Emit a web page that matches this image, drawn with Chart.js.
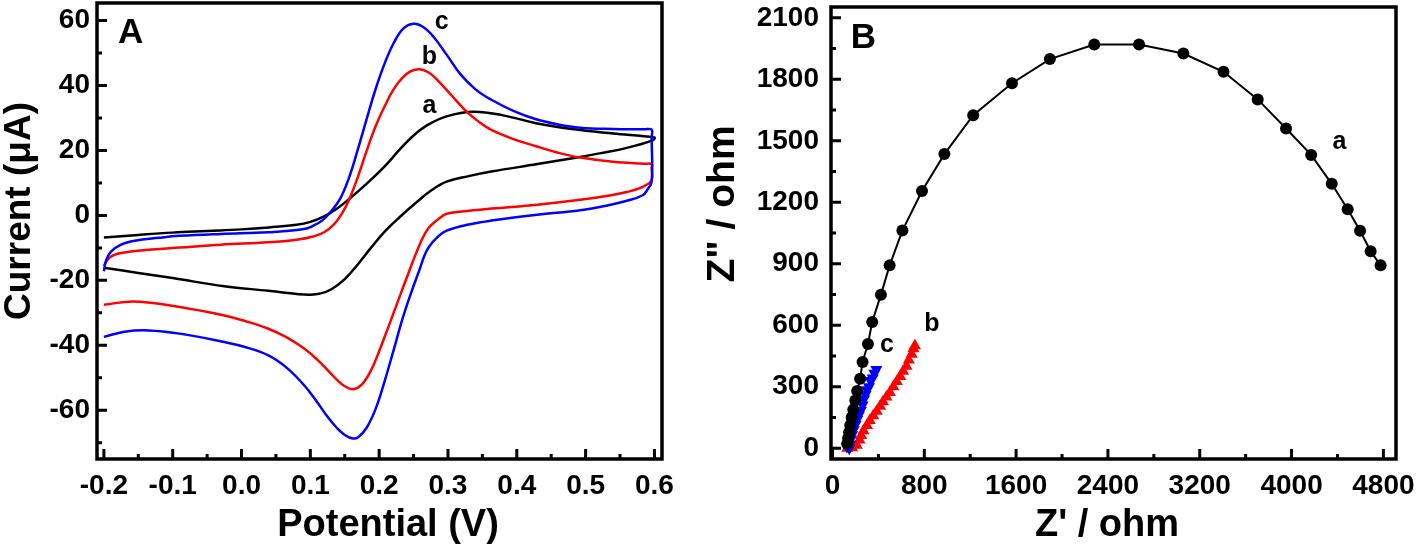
<!DOCTYPE html>
<html>
<head>
<meta charset="utf-8">
<title>CV and EIS</title>
<script src="https://cdn.jsdelivr.net/npm/chart.js@4.4.0/dist/chart.umd.min.js"></script>
<style>
  body { margin: 0; background: #fff; }
  #wrap { position: relative; width: 1418px; height: 550px; }
  #cvChart { position: absolute; left: 0; top: 0; }
  #eisChart { position: absolute; left: 700px; top: 0; }
</style>
</head>
<body>
<div id="wrap">
  <canvas id="cvChart" width="700" height="550"></canvas>
  <canvas id="eisChart" width="718" height="550"></canvas>
</div>
<script>
// ---- panel A : cyclic voltammograms (forward scan, then reverse scan) ----
const potA = [-0.200, -0.150, -0.100, -0.050, 0.000, 0.040, 0.080, 0.100, 0.120, 0.138, 0.156, 0.182, 0.208, 0.230, 0.250, 0.270, 0.298, 0.337, 0.380, 0.428, 0.480, 0.540, 0.600,
  0.598, 0.560, 0.520, 0.492, 0.430, 0.363, 0.330, 0.298, 0.275, 0.253, 0.230, 0.208, 0.188, 0.169, 0.150, 0.130, 0.115, 0.100, 0.080, 0.060, 0.039, -0.025, -0.100, -0.150, -0.200];
const curA = [-6.8, -6.0, -5.3, -4.8, -4.3, -3.7, -2.9, -2.0, -0.3, 2.0, 5.0, 9.8, 15.1, 20.3, 24.6, 27.8, 30.5, 31.9, 30.8, 28.4, 26.6, 25.2, 24.0,
  23.2, 20.8, 19.1, 18.0, 15.8, 13.5, 12.1, 10.4, 7.6, 3.8, -0.5, -5.0, -10.0, -15.1, -19.6, -22.8, -24.0, -24.4, -24.2, -23.7, -23.2, -21.8, -19.3, -17.7, -16.1];

const potB = [-0.200, -0.192, -0.175, -0.130, -0.090, -0.030, 0.039, 0.080, 0.104, 0.120, 0.135, 0.146, 0.156, 0.169, 0.182, 0.195, 0.208, 0.220, 0.233, 0.246, 0.259, 0.272, 0.285, 0.305, 0.324, 0.345, 0.363, 0.395, 0.428, 0.460, 0.492, 0.540, 0.585, 0.596,
  0.596, 0.596, 0.583, 0.560, 0.530, 0.492, 0.430, 0.363, 0.320, 0.298, 0.285, 0.272, 0.262, 0.253, 0.243, 0.228, 0.214, 0.200, 0.188, 0.175, 0.162, 0.150, 0.138, 0.125, 0.110, 0.091, 0.065, 0.039, 0.005, -0.025, -0.090, -0.155, -0.200];
const curB = [-15.5, -13.0, -11.6, -10.5, -9.9, -9.0, -8.3, -7.5, -6.5, -5.2, -2.6, 0.6, 4.7, 11.8, 20.0, 27.5, 33.6, 38.5, 42.2, 44.4, 45.0, 44.0, 41.6, 37.0, 32.6, 28.8, 26.3, 23.5, 21.3, 19.3, 17.8, 16.5, 15.9, 15.8,
  14.5, 10.9, 8.8, 7.2, 6.0, 4.8, 3.3, 2.1, 1.2, 0.5, -1.3, -3.8, -7.5, -12.0, -17.5, -26.0, -34.0, -41.8, -47.8, -52.0, -53.5, -52.6, -50.5, -47.6, -44.4, -41.0, -37.5, -34.9, -32.5, -30.8, -28.2, -26.5, -27.5];

const potC = [-0.200, -0.197, -0.190, -0.175, -0.155, -0.120, -0.090, -0.030, 0.039, 0.091, 0.104, 0.117, 0.130, 0.143, 0.156, 0.169, 0.182, 0.195, 0.208, 0.221, 0.235, 0.250, 0.264, 0.279, 0.298, 0.318, 0.340, 0.363, 0.395, 0.428, 0.460, 0.492, 0.540, 0.585, 0.596,
  0.596, 0.596, 0.590, 0.583, 0.560, 0.530, 0.492, 0.430, 0.363, 0.330, 0.298, 0.285, 0.272, 0.265, 0.259, 0.247, 0.234, 0.221, 0.208, 0.195, 0.182, 0.170, 0.162, 0.150, 0.138, 0.125, 0.110, 0.091, 0.065, 0.039, 0.005, -0.025, -0.090, -0.135, -0.170, -0.200];
const curC = [-17.2, -14.0, -11.2, -9.0, -7.8, -6.9, -6.3, -5.7, -5.2, -4.2, -3.2, -1.6, 1.2, 5.0, 11.5, 20.3, 29.8, 39.0, 46.8, 53.0, 57.5, 59.0, 58.0, 55.0, 49.5, 43.5, 38.8, 35.6, 32.2, 29.6, 28.0, 27.0, 26.6, 26.5, 26.4,
  24.0, 10.5, 8.0, 6.2, 4.5, 3.0, 1.6, 0.2, -1.6, -2.8, -4.7, -6.6, -9.8, -12.8, -16.5, -23.5, -31.8, -41.5, -51.0, -59.5, -65.3, -68.2, -68.7, -67.6, -65.3, -62.0, -57.5, -52.3, -46.8, -43.1, -40.5, -39.0, -36.4, -35.4, -35.8, -37.4];

const potTicks = [-0.2, -0.1, 0.0, 0.1, 0.2, 0.3, 0.4, 0.5, 0.6];
const curTicks = [-60, -40, -20, 0, 20, 40, 60];

// ---- panel B : Nyquist plots ----
const reA = [128, 136, 145, 155, 167, 181, 199, 215, 241, 262, 309, 346, 422, 498, 609, 780, 975, 1226, 1564, 1894, 2281, 2671, 3057, 3407, 3705, 3952, 4171, 4350, 4489, 4597, 4689, 4776];
const imA = [20, 48, 78, 112, 150, 188, 232, 279, 339, 420, 508, 616, 749, 892, 1062, 1255, 1435, 1625, 1781, 1899, 1970, 1970, 1926, 1837, 1702, 1560, 1431, 1290, 1166, 1061, 961, 892];

const reB = [130, 171, 211, 235, 250, 270, 300, 325, 355, 385, 415, 440, 470, 500, 530, 560, 590, 615, 645, 665, 690, 705, 718];
const imB = [0, 2, 14, 40, 62, 85, 110, 135, 158, 180, 205, 226, 250, 272, 300, 325, 350, 375, 400, 430, 458, 485, 500];

const reC = [125, 146, 152, 160, 171, 185, 200, 215, 230, 248, 262, 275, 288, 300, 318, 330, 350, 365, 382];
const imC = [8, 0, 20, 45, 65, 90, 115, 140, 162, 185, 210, 240, 262, 285, 300, 330, 342, 365, 384];

const reTicks = [0, 800, 1600, 2400, 3200, 4000, 4800];
const imTicks = [0, 300, 600, 900, 1200, 1500, 1800, 2100];

const FONT = "'Liberation Sans', Arial, sans-serif";

const toPoints = (xs, ys) => xs.map((v, i) => ({x: v, y: ys[i]}));

// boxed frame with inward major/minor ticks on left and bottom
const frameTicks = {
  id: 'frameTicks',
  afterDraw(chart) {
    const {ctx, chartArea: {left, top, right, bottom}, scales: {x, y}} = chart;
    const minors = (scale) => {
      const v = scale.ticks.map(t => t.value);
      const half = (v[1] - v[0]) / 2;
      const out = [v[0] - half, ...v.map(t => t + half)];
      return out.filter(t => t >= scale.min && t <= scale.max);
    };
    ctx.save();
    ctx.strokeStyle = '#000';
    ctx.lineWidth = 3;
    ctx.beginPath();
    x.ticks.forEach(t => { const p = x.getPixelForValue(t.value); ctx.moveTo(p, bottom); ctx.lineTo(p, bottom - 10); });
    minors(x).forEach(m => { const p = x.getPixelForValue(m); ctx.moveTo(p, bottom); ctx.lineTo(p, bottom - 5); });
    y.ticks.forEach(t => { const p = y.getPixelForValue(t.value); ctx.moveTo(left, p); ctx.lineTo(left + 10, p); });
    minors(y).forEach(m => { const p = y.getPixelForValue(m); ctx.moveTo(left, p); ctx.lineTo(left + 5, p); });
    ctx.stroke();
    ctx.lineWidth = 3.5;
    ctx.strokeRect(left, top, right - left, bottom - top);
    ctx.restore();
  }
};

// text placed in data coordinates
const textLabels = (items) => ({
  id: 'textLabels',
  afterDatasetsDraw(chart) {
    const {ctx, scales: {x, y}} = chart;
    ctx.save();
    ctx.fillStyle = '#000';
    ctx.textAlign = 'center';
    ctx.textBaseline = 'middle';
    items.forEach(it => {
      ctx.font = `bold ${it.size}px ${FONT}`;
      ctx.fillText(it.text, x.getPixelForValue(it.x), y.getPixelForValue(it.y));
    });
    ctx.restore();
  }
});

// axis titles are not centred on the axes in the original, so they are drawn by hand
const axisTitles = (items) => ({
  id: 'axisTitles',
  afterDraw(chart) {
    const ctx = chart.ctx;
    items.forEach(it => {
      ctx.save();
      ctx.translate(it.cx, it.cy);
      if (it.vertical) ctx.rotate(-Math.PI / 2);
      ctx.font = `bold ${it.size}px ${FONT}`;
      ctx.fillStyle = '#000';
      ctx.textAlign = 'center';
      ctx.textBaseline = 'middle';
      ctx.fillText(it.text, 0, 0);
      ctx.restore();
    });
  }
});

const axis = (opts) => ({
  type: 'linear',
  min: opts.min,
  max: opts.max,
  grid: {display: false, drawTicks: false},
  border: {display: false},
  afterBuildTicks: s => { s.ticks = opts.ticks.map(v => ({value: v})); },
  afterFit: s => {
    // fixed box sizes so the plot frame lands where the original has it
    if (opts.width) s.width = opts.width;
    if (opts.height) s.height = opts.height;
    s.paddingTop = 0; s.paddingBottom = 0; s.paddingLeft = 0; s.paddingRight = 0;
  },
  ticks: {
    color: '#000',
    padding: opts.pad,
    maxRotation: 0,
    autoSkip: false,
    font: {family: FONT, weight: 'bold', size: 28},
    callback: opts.fmt
  }
});

Chart.defaults.font.family = FONT;

new Chart(document.getElementById('cvChart'), {
  type: 'scatter',
  data: {
    datasets: [
      {label: 'c', data: toPoints(potC, curC), showLine: true, borderColor: '#0000ff', borderWidth: 2.5, pointRadius: 0, tension: 0.4},
      {label: 'b', data: toPoints(potB, curB), showLine: true, borderColor: '#ff0000', borderWidth: 2.5, pointRadius: 0, tension: 0.4},
      {label: 'a', data: toPoints(potA, curA), showLine: true, borderColor: '#000000', borderWidth: 2.5, pointRadius: 0, tension: 0.4}
    ]
  },
  options: {
    responsive: false,
    animation: false,
    layout: {padding: {top: 3, right: 38, left: 0, bottom: 0}},
    plugins: {legend: {display: false}, tooltip: {enabled: false}},
    scales: {
      x: axis({min: -0.21, max: 0.611, ticks: potTicks, height: 91, pad: 10, fmt: v => v.toFixed(1)}),
      y: axis({min: -75, max: 65.4, ticks: curTicks, width: 97, pad: 7, fmt: v => String(v)})
    }
  },
  plugins: [frameTicks, axisTitles([
    {text: 'Potential (V)', size: 38, cx: 388, cy: 526},
    {text: 'Current (\u03bcA)', size: 37, cx: 20, cy: 211, vertical: true}
  ]), textLabels([
    {text: 'A', x: -0.161, y: 56.2, size: 35},
    {text: 'c', x: 0.291, y: 59.5, size: 25},
    {text: 'b', x: 0.273, y: 48.7, size: 25},
    {text: 'a', x: 0.273, y: 33.7, size: 25}
  ])]
});

new Chart(document.getElementById('eisChart'), {
  type: 'scatter',
  data: {
    datasets: [
      {label: 'a', data: toPoints(reA, imA), showLine: true, borderColor: '#000', borderWidth: 2,
        pointStyle: 'circle', pointRadius: 6, pointBackgroundColor: '#000', pointBorderWidth: 0},
      {label: 'c', data: toPoints(reC, imC), showLine: false, pointStyle: 'triangle', pointRotation: 180,
        pointRadius: 7, pointBackgroundColor: '#0000ff', pointBorderWidth: 0},
      {label: 'b', data: toPoints(reB, imB), showLine: false, pointStyle: 'triangle',
        pointRadius: 7, pointBackgroundColor: '#ff0000', pointBorderWidth: 0}
    ]
  },
  options: {
    responsive: false,
    animation: false,
    layout: {padding: {top: 3, right: 22, left: 0, bottom: 0}},
    plugins: {legend: {display: false}, tooltip: {enabled: false}},
    scales: {
      x: axis({min: -13, max: 4910, ticks: reTicks, height: 91, pad: 10, fmt: v => String(v)}),
      y: axis({min: -53, max: 2153, ticks: imTicks, width: 131, pad: 12, fmt: v => String(v)})
    }
  },
  plugins: [frameTicks, axisTitles([
    {text: "Z' / ohm", size: 38, cx: 407, cy: 526},
    {text: 'Z" / ohm', size: 39, cx: 23, cy: 204, vertical: true}
  ]), textLabels([
    {text: 'B', x: 270, y: 1998, size: 35},
    {text: 'a', x: 4417, y: 1493, size: 25},
    {text: 'b', x: 867, y: 606, size: 25},
    {text: 'c', x: 474, y: 504, size: 25}
  ])]
});
</script>
</body>
</html>
